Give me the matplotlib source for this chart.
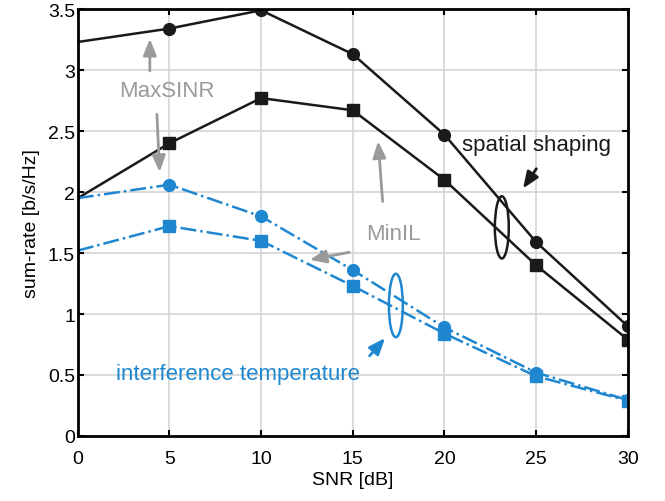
import matplotlib
matplotlib.use("Agg")
import matplotlib.pyplot as plt
from matplotlib.patches import Ellipse

plt.rcParams["font.family"] = ["Liberation Sans", "DejaVu Sans"]

snr = [0, 5, 10, 15, 20, 25, 30]
maxsinr_spatial = [3.23, 3.34, 3.49, 3.13, 2.47, 1.59, 0.90]
minil_spatial = [1.95, 2.40, 2.77, 2.67, 2.10, 1.40, 0.79]
maxsinr_temp = [1.95, 2.06, 1.80, 1.36, 0.89, 0.52, 0.295]
minil_temp = [1.52, 1.72, 1.60, 1.23, 0.84, 0.49, 0.29]

black = "#1a1a1a"
blue = "#1f87cf"
gray = "#9a9a9a"

fig = plt.figure(figsize=(6.65, 5.02), dpi=100)
ax = fig.add_axes([0.117, 0.1295, 0.827, 0.8505])

mk = slice(1, None)
ax.plot(snr, maxsinr_spatial, "-", color=black, lw=1.8, marker="o", ms=8.5, markevery=mk)
ax.plot(snr, minil_spatial, "-", color=black, lw=1.8, marker="s", ms=8.5, markevery=mk)
ax.plot(snr, maxsinr_temp, "-.", color=blue, lw=1.8, marker="o", ms=8.5, markevery=mk)
ax.plot(snr, minil_temp, "-.", color=blue, lw=1.8, marker="s", ms=8.5, markevery=mk)

ax.set_xlim(0, 30)
ax.set_ylim(0, 3.5)
ax.set_xticks(snr)
ax.set_yticks([0, 0.5, 1, 1.5, 2, 2.5, 3, 3.5])
ax.set_yticklabels(["0", "0.5", "1", "1.5", "2", "2.5", "3", "3.5"])
ax.grid(True, color="#d4d4d4", lw=1.2)
ax.set_axisbelow(True)
ax.tick_params(labelsize=14, direction="in", length=4, width=1.5, top=True, right=True)
ax.tick_params(axis="x", pad=10)
ax.tick_params(axis="y", pad=2)
for s in ax.spines.values():
    s.set_linewidth(2)
ax.set_xlabel("SNR [dB]", fontsize=14, labelpad=3)
ax.set_ylabel("sum-rate [b/s/Hz]", fontsize=14, labelpad=6)

# annotations
arrow_kw = dict(arrowstyle="-|>,head_length=0.55,head_width=0.22", lw=2, mutation_scale=18)
ax.text(4.86, 2.83, "MaxSINR", color=gray, fontsize=16, ha="center", va="center")
ax.annotate("", xy=(3.93, 3.28), xytext=(3.93, 2.97), arrowprops=dict(color=gray, **arrow_kw))
ax.annotate("", xy=(4.47, 2.14), xytext=(4.31, 2.66), arrowprops=dict(color=gray, **arrow_kw))

ax.text(17.2, 1.66, "MinIL", color=gray, fontsize=16, ha="center", va="center")
ax.annotate("", xy=(16.37, 2.44), xytext=(16.64, 1.90), arrowprops=dict(color=gray, **arrow_kw))
ax.annotate("", xy=(12.5, 1.44), xytext=(14.95, 1.51), arrowprops=dict(color=gray, **arrow_kw))

ax.text(25.0, 2.39, "spatial shaping", color=black, fontsize=16, ha="center", va="center")
ax.annotate("", xy=(24.2, 2.01), xytext=(25.1, 2.21), arrowprops=dict(color=black, **arrow_kw))
ax.add_patch(Ellipse((23.13, 1.71), 0.76, 0.51, fill=False, ec=black, lw=1.8))

ax.text(8.73, 0.51, "interference temperature", color=blue, fontsize=16, ha="center", va="center")
ax.annotate("", xy=(16.86, 0.82), xytext=(15.82, 0.64), arrowprops=dict(color=blue, **arrow_kw))
ax.add_patch(Ellipse((17.35, 1.07), 0.76, 0.52, fill=False, ec=blue, lw=1.8))

fig.savefig("out.png", dpi=100)
